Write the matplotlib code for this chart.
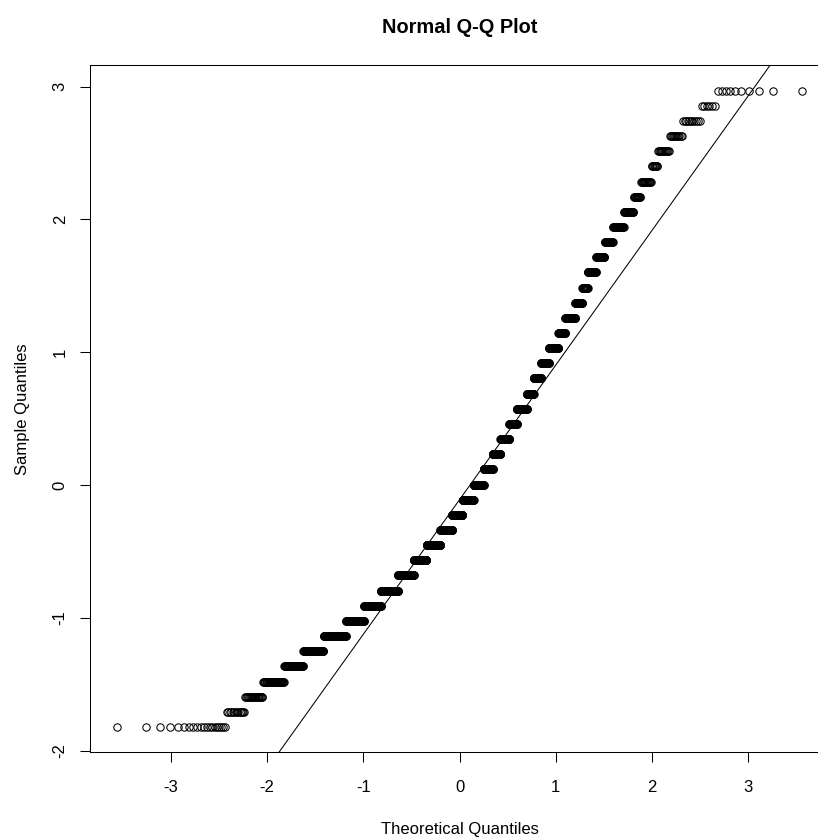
import numpy as np
import matplotlib.pyplot as plt
from statistics import NormalDist

plt.rcParams['font.family'] = ['Liberation Sans', 'DejaVu Sans']
plt.rcParams['axes.unicode_minus'] = False

# distinct sample values (standardised scores) and how many times each occurs
levels = [-1.822, -1.708, -1.594, -1.480, -1.366, -1.252, -1.138, -1.023, -0.909, -0.795,
          -0.681, -0.567, -0.453, -0.339, -0.225, -0.111, 0.003, 0.117, 0.231, 0.345,
          0.459, 0.573, 0.687, 0.802, 0.916, 1.030, 1.144, 1.258, 1.372, 1.486,
          1.600, 1.714, 1.828, 1.942, 2.056, 2.170, 2.284, 2.398, 2.512, 2.626,
          2.740, 2.855, 2.969]
counts = [20, 14, 20, 36, 48, 70, 106, 110, 123, 143,
          147, 129, 145, 127, 115, 120, 109, 95, 77, 87,
          71, 89, 56, 59, 58, 64, 42, 57, 36, 25,
          36, 32, 27, 31, 23, 14, 18, 9, 13, 12,
          11, 6, 10]
xticks = [-3, -2, -1, 0, 1, 2, 3]
yticks = [-2, -1, 0, 1, 2, 3]

y = np.sort(np.repeat(levels, counts))
n = len(y)
nd = NormalDist()
# ppoints(n) like R: (i - 0.5) / n
x = np.array([nd.inv_cdf((i - 0.5) / n) for i in range(1, n + 1)])

# qqline through the quartiles
yq = np.quantile(y, [0.25, 0.75])
xq = np.array([nd.inv_cdf(0.25), nd.inv_cdf(0.75)])
slope = (yq[1] - yq[0]) / (xq[1] - xq[0])

fig = plt.figure(figsize=(8.18, 8.39), dpi=100)
ax = fig.add_axes([0.1099, 0.1032, 0.9037, 0.8191])

ax.plot(x, y, 'o', mfc='none', mec='black', ms=5.3, mew=0.75)
ax.axline((xq[0], yq[0]), slope=slope, color='black', lw=0.75)
ax.margins(0.04)

ax.set_xticks(xticks)
ax.set_yticks(yticks)
ax.tick_params(length=7, width=0.75, labelsize=12)
ax.tick_params(axis='x', pad=13)
ax.tick_params(axis='y', labelrotation=90, pad=9)
for lab in ax.get_yticklabels():
    lab.set_va('center')
for s in ax.spines.values():
    s.set_linewidth(0.75)

ax.set_title('Normal Q-Q Plot', fontsize=14.4, fontweight='bold', pad=23)
ax.set_xlabel('Theoretical Quantiles', fontsize=12, labelpad=19)
ax.set_ylabel('Sample Quantiles', fontsize=12, labelpad=16)

fig.savefig("out.png", dpi=100)
